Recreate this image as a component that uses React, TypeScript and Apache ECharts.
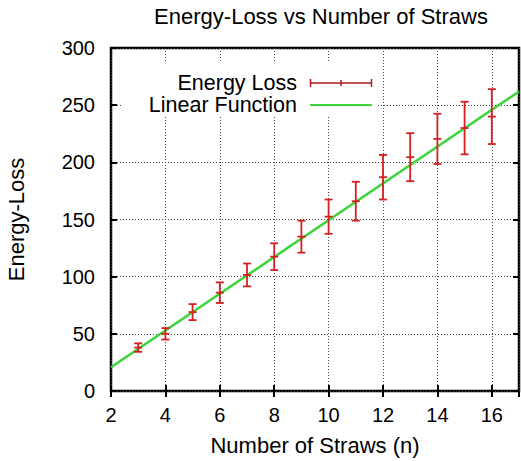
import React, { useEffect, useRef } from "react";
import * as echarts from "echarts";

const xs = [3, 4, 5, 6, 7, 8, 9, 10, 11, 12, 13, 14, 15, 16];
const energy = [38, 50, 69, 86, 101.5, 117.5, 135, 152.5, 166, 187, 204.5, 220.5, 230, 240];
const errors = [3.7, 5, 7, 9, 10, 11.7, 14, 15, 17, 19.5, 21, 22, 23, 24];
const lineX = [2, 17];
const lineY = [20.7, 262];
const xTicks = [2, 4, 6, 8, 10, 12, 14, 16];
const yTicks = [0, 50, 100, 150, 200, 250, 300];

const RED = "#d42020";
const DARKRED = "#b0181c";
const GREEN = "#3bd43b";
const FONT = "Liberation Sans";
const FS = 20;
const FS_TEXT = 22;
const FS_LEGEND = 21.5;

export default function App() {
  const ref = useRef<HTMLDivElement>(null);
  useEffect(() => {
    const chart = echarts.init(ref.current!, undefined, { renderer: "svg" });
    const errData = xs.map((x, i) => [x, energy[i], energy[i] - errors[i], energy[i] + errors[i]]);
    const tickStyle = { inside: true, length: 6, lineStyle: { color: "#000", width: 2 } };
    const gridLine = { show: true, lineStyle: { color: "#444", type: [1, 2], width: 1 } };
    const legendLine = (x1: number, y1: number, x2: number, y2: number, stroke: string, w: number) => ({
      type: "line",
      z: 3,
      shape: { x1, y1, x2, y2 },
      style: { stroke, lineWidth: w },
    });
    chart.setOption({
      animation: false,
      backgroundColor: "#fff",
      title: {
        text: "Energy-Loss vs Number of Straws",
        left: 316,
        textAlign: "center",
        top: 0,
        textStyle: { fontFamily: FONT, fontSize: FS_TEXT, fontWeight: "normal", color: "#000" },
      },
      grid: {
        left: 111,
        right: 2,
        top: 48,
        bottom: 70,
        show: true,
        borderColor: "#000",
        borderWidth: 2.5,
        backgroundColor: "transparent",
        containLabel: false,
        outerBoundsMode: "none",
      },
      xAxis: [
        {
          type: "value",
          min: 2,
          max: 17,
          interval: 2,
          name: "Number of Straws (n)",
          nameLocation: "middle",
          nameGap: 43,
          nameTextStyle: { fontFamily: FONT, fontSize: FS_TEXT, color: "#000" },
          axisLine: { show: false },
          axisTick: tickStyle,
          axisLabel: {
            fontFamily: FONT,
            fontSize: FS,
            color: "#000",
            margin: 14,
            showMaxLabel: false,
            formatter: (v: number) => (xTicks.indexOf(v) >= 0 ? String(v) : ""),
          },
          splitLine: gridLine,
        },
        {
          type: "value",
          position: "top",
          min: 2,
          max: 17,
          interval: 2,
          axisLine: { show: false },
          axisTick: tickStyle,
          axisLabel: { show: false },
          splitLine: { show: false },
        },
      ],
      yAxis: [
        {
          type: "value",
          min: 0,
          max: 300,
          interval: 50,
          name: "Energy-Loss",
          nameLocation: "middle",
          nameGap: 84,
          nameRotate: 90,
          nameTextStyle: { fontFamily: FONT, fontSize: FS_TEXT, color: "#000" },
          axisLine: { show: false },
          axisTick: tickStyle,
          axisLabel: {
            fontFamily: FONT,
            fontSize: FS,
            color: "#000",
            margin: 16,
            formatter: (v: number) => (yTicks.indexOf(v) >= 0 ? String(v) : ""),
          },
          splitLine: gridLine,
        },
        {
          type: "value",
          position: "right",
          min: 0,
          max: 300,
          interval: 50,
          axisLine: { show: false },
          axisTick: tickStyle,
          axisLabel: { show: false },
          splitLine: { show: false },
        },
      ],
      graphic: [
        {
          type: "rect",
          z: 1,
          shape: { x: 122, y: 63, width: 256, height: 52 },
          style: { fill: "#fff" },
        },
        {
          type: "text",
          z: 2,
          x: 297,
          y: 83,
          style: {
            text: "Energy Loss",
            textAlign: "right",
            textVerticalAlign: "middle",
            fontFamily: FONT,
            fontSize: FS_LEGEND,
            fill: "#000",
          },
        },
        {
          type: "text",
          z: 2,
          x: 297,
          y: 105,
          style: {
            text: "Linear Function",
            textAlign: "right",
            textVerticalAlign: "middle",
            fontFamily: FONT,
            fontSize: FS_LEGEND,
            fill: "#000",
          },
        },
        legendLine(310, 83, 372, 83, DARKRED, 1.5),
        legendLine(310.5, 79, 310.5, 87, DARKRED, 1.5),
        legendLine(341, 80, 341, 86, DARKRED, 1.5),
        legendLine(371.5, 79, 371.5, 87, DARKRED, 1.5),
        legendLine(310, 105, 372, 105, GREEN, 2),
      ],
      series: [
        {
          name: "Linear Function",
          type: "line",
          data: lineX.map((x, i) => [x, lineY[i]]),
          symbol: "none",
          lineStyle: { color: GREEN, width: 2.5 },
          z: 3,
          silent: true,
        },
        {
          name: "Energy Loss",
          type: "custom",
          data: errData,
          z: 4,
          renderItem: (params: any, api: any) => {
            const x = api.value(0);
            const c = api.coord([x, api.value(1)]);
            const lo = api.coord([x, api.value(2)]);
            const hi = api.coord([x, api.value(3)]);
            const w = 4;
            const style = { stroke: RED, lineWidth: 1.8 };
            return {
              type: "group",
              children: [
                { type: "line", shape: { x1: c[0], y1: lo[1], x2: c[0], y2: hi[1] }, style },
                { type: "line", shape: { x1: c[0] - w, y1: lo[1], x2: c[0] + w, y2: lo[1] }, style },
                { type: "line", shape: { x1: c[0] - w, y1: hi[1], x2: c[0] + w, y2: hi[1] }, style },
                { type: "line", shape: { x1: c[0] - w, y1: c[1], x2: c[0] + w, y2: c[1] }, style },
              ],
            };
          },
        },
      ],
    });
    return () => chart.dispose();
  }, []);
  return (
    <div
      ref={ref}
      style={{ position: "fixed", left: 0, top: 0, width: 521, height: 461 }}
    />
  );
}
